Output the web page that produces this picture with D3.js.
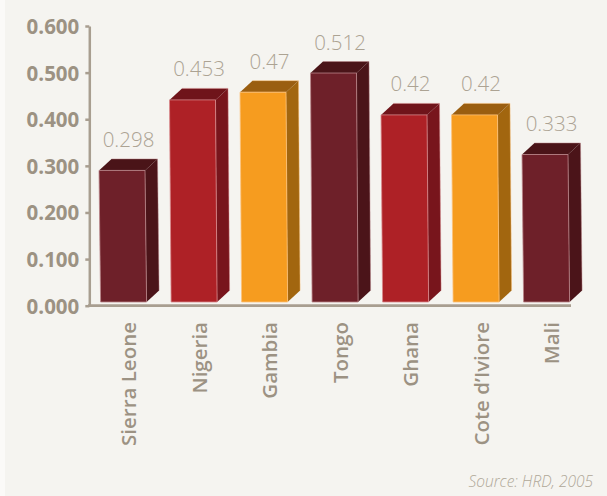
<!DOCTYPE html>
<html>
<head>
<meta charset="utf-8">
<script src="https://cdn.jsdelivr.net/npm/d3@7/dist/d3.min.js"></script>
<style>
  html, body { margin: 0; padding: 0; background: #f5f4f0; }
  svg { display: block; }
</style>
</head>
<body>
<script>
// ---- data ----
const categories = ["Sierra Leone", "Nigeria", "Gambia", "Tongo", "Ghana", "Cote d\u2019Iviore", "Mali"];
const values = [0.298, 0.453, 0.47, 0.512, 0.42, 0.42, 0.333];
const valueLabels = ["0.298", "0.453", "0.47", "0.512", "0.42", "0.42", "0.333"];
const colorGroups = ["maroon", "red", "orange", "maroon", "red", "orange", "maroon"];
const tickValues = [0, 0.1, 0.2, 0.3, 0.4, 0.5, 0.6];
const sourceText = "Source: HRD, 2005";

// ---- styles ----
const palette = {
  maroon: { front: "#6e2029", side: "#4b1419", top: "#4a1418", edge: "#b98488" },
  red:    { front: "#ae2126", side: "#78151c", top: "#6f141a", edge: "#d88a8c" },
  orange: { front: "#f69c1f", side: "#a2660f", top: "#9a5e10", edge: "#fcc27a" }
};
const W = 607, H = 496;
const svg = d3.select("body").append("svg").attr("width", W).attr("height", H);

svg.append("rect").attr("width", W).attr("height", H).attr("fill", "#f5f4f0");
svg.append("rect").attr("width", 5).attr("height", H).attr("fill", "#fbfaf8");

const y = d3.scaleLinear().domain([0, 0.6]).range([305.7, 26]);
const yBar = d3.scaleLinear().domain([0, 0.6]).range([306, 33]);
const x = d3.scalePoint().domain(categories).range([122, 545]);

const half = 23, dx = 12.5, dy = 11.5, skew = 1.6;
const frontBottom = 302;

// ---- axis ----
const axisG = svg.append("g").attr("transform", "translate(89.3,0)")
  .call(d3.axisLeft(y).tickValues(tickValues).tickFormat(d3.format(".3f")).tickSize(4).tickSizeOuter(0).tickPadding(6));
axisG.select(".domain").attr("stroke", "#a89e90").attr("stroke-width", 2.5);
axisG.selectAll(".tick line").attr("stroke", "#a89e90").attr("stroke-width", 2.5);
axisG.selectAll(".tick text")
  .attr("fill", "#9c9283")
  .attr("font-family", "'Open Sans', sans-serif")
  .attr("font-weight", 700)
  .attr("font-size", 20.5)
  .attr("dy", "0.36em");

// baseline
svg.append("line")
  .attr("x1", 88).attr("x2", 571)
  .attr("y1", y(0)).attr("y2", y(0))
  .attr("stroke", "#a89e90").attr("stroke-width", 2.8);

// ---- bars ----
const bars = svg.append("g").selectAll("g").data(categories).join("g");

bars.each(function (c, i) {
  const g = d3.select(this);
  const p = palette[colorGroups[i]];
  const cx = x(c);
  const t = yBar(values[i]);
  const l = cx - half, r = cx + half;
  const bl = l + skew, br = r + skew;
  // side face
  g.append("path")
    .attr("d", `M${r},${t} L${r + dx},${t - dy} L${br + dx},${frontBottom - dy} L${br},${frontBottom} Z`)
    .attr("fill", p.side);
  // top face
  g.append("path")
    .attr("d", `M${l},${t} L${l + dx},${t - dy} L${r + dx},${t - dy} L${r},${t} Z`)
    .attr("fill", p.top);
  // back edge highlight
  g.append("path")
    .attr("d", `M${l + dx},${t - dy} L${r + dx},${t - dy} L${br + dx},${frontBottom - dy}`)
    .attr("fill", "none").attr("stroke", p.edge).attr("stroke-width", 0.8).attr("opacity", 0.6);
  // front face
  g.append("path")
    .attr("d", `M${l},${t} L${r},${t} L${br},${frontBottom} L${bl},${frontBottom} Z`)
    .attr("fill", p.front)
    .attr("stroke", p.edge).attr("stroke-width", 1).attr("stroke-opacity", 0.8);
});

// value labels
svg.append("g").selectAll("text").data(categories).join("text")
  .attr("x", c => x(c) + 6.5)
  .attr("y", (c, i) => yBar(values[i]) - 23.5)
  .attr("text-anchor", "middle")
  .attr("fill", "#aca393")
  .attr("font-family", "'Open Sans', sans-serif")
  .attr("font-weight", 300)
  .attr("font-size", 20.5)
  .text((c, i) => valueLabels[i]);

// category labels
svg.append("g").selectAll("text").data(categories).join("text")
  .attr("transform", c => `translate(${x(c) + 7},322) rotate(-90)`)
  .attr("text-anchor", "end")
  .attr("dy", "0.36em")
  .attr("fill", "#9c9283")
  .attr("font-family", "'Open Sans', sans-serif")
  .attr("font-weight", 600)
  .attr("font-size", 20.5)
  .text(c => c);

// source
svg.append("text")
  .attr("x", 593).attr("y", 486.5)
  .attr("text-anchor", "end")
  .attr("fill", "#b0a898")
  .attr("font-family", "'Open Sans', sans-serif")
  .attr("font-style", "italic")
  .attr("font-weight", 300)
  .attr("font-size", 15.5)
  .text(sourceText);
</script>
</body>
</html>
